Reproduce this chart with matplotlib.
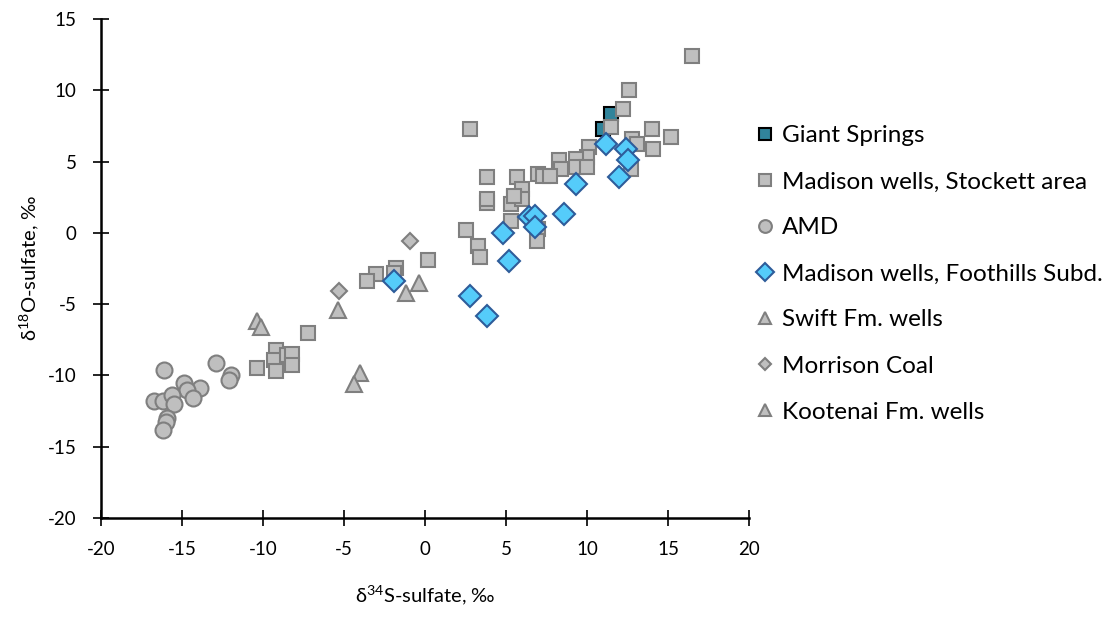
import matplotlib
matplotlib.use("Agg")
import matplotlib.pyplot as plt

plt.rcParams['font.family'] = ['Lato', 'DejaVu Sans']
plt.rcParams['axes.unicode_minus'] = False

# d34S (x) and d18O (y) of sulfate, permil
giant_x = [11.5, 11.0]
giant_y = [8.3, 7.3]

stockett_x = [16.5, 12.6, 12.2, 11.5, 2.8, 14.0, 15.2, 14.1, 12.8, 13.1, 10.1,
              10.0, 8.3, 9.3, 9.3, 10.0, 8.4, 7.0, 7.3, 7.7, 3.8, 5.7, 6.0,
              5.5, 3.8, 12.7, 3.8, 5.3, 6.0, 5.5, 5.3, 2.5, 3.3, 3.4, 7.0,
              6.9, 0.2, -1.8, -3.0, -3.6, -1.9, -7.2, -9.2, -9.3, -8.5, -8.2,
              -8.2, -9.2, -10.4]
stockett_y = [12.4, 10.0, 8.7, 7.4, 7.3, 7.3, 6.7, 5.9, 6.6, 6.2, 6.0,
              5.3, 5.1, 5.2, 4.6, 4.6, 4.5, 4.1, 4.0, 4.0, 3.9, 3.9, 3.1,
              2.5, 2.1, 4.5, 2.4, 2.0, 2.4, 2.6, 0.8, 0.2, -0.9, -1.7, 0.3,
              -0.6, -1.9, -2.5, -2.9, -3.4, -2.8, -7.0, -8.2, -8.9, -8.6, -8.5,
              -9.3, -9.7, -9.5]

amd_x = [-16.1, -12.9, -12.0, -12.1, -14.9, -13.9, -14.7, -14.3, -16.7,
         -16.2, -15.6, -15.5, -15.9, -16.0, -16.2]
amd_y = [-9.6, -9.1, -10.0, -10.3, -10.5, -10.9, -11.0, -11.6, -11.8,
         -11.8, -11.4, -12.0, -13.0, -13.3, -13.8]

foothills_x = [11.2, 12.4, 12.5, 12.0, 9.3, 6.4, 6.8, 6.8, 8.6, 4.8, 5.2,
               2.8, 3.8, -1.9]
foothills_y = [6.2, 5.9, 5.1, 3.9, 3.4, 1.1, 1.2, 0.4, 1.3, 0.0, -2.0,
               -4.4, -5.8, -3.4]

swift_x = [-10.4, -10.1, -5.4, -1.2, -0.4]
swift_y = [-6.2, -6.6, -5.4, -4.2, -3.5]

morrison_x = [-0.9, -5.3]
morrison_y = [-0.6, -4.1]

kootenai_x = [-4.0, -4.4]
kootenai_y = [-9.8, -10.6]

gray = '#BFBFBF'
gray_edge = '#7F7F7F'

fig = plt.figure(figsize=(11.12, 6.24), dpi=100)
ax = fig.add_axes([0.0908, 0.1699, 0.5828, 0.7997])

ax.plot(giant_x, giant_y, 's', ms=10, mfc='#31849B', mec='black', mew=1.5,
        label='Giant Springs')
ax.plot(stockett_x, stockett_y, 's', ms=10, mfc=gray, mec=gray_edge, mew=1.5,
        label='Madison wells, Stockett area')
ax.plot(amd_x, amd_y, 'o', ms=11.5, mfc=gray, mec=gray_edge, mew=1.5,
        label='AMD')
ax.plot(foothills_x, foothills_y, 'D', ms=11, mfc='#55CCFA', mec='#2E5C9A',
        mew=1.5, label='Madison wells, Foothills Subd.')
ax.plot(swift_x, swift_y, '^', ms=11, mfc=gray, mec=gray_edge, mew=1.5,
        label='Swift Fm. wells')
ax.plot(morrison_x, morrison_y, 'D', ms=8, mfc=gray, mec=gray_edge, mew=1.5,
        label='Morrison Coal')
ax.plot(kootenai_x, kootenai_y, '^', ms=11, mfc=gray, mec=gray_edge, mew=1.5,
        label='Kootenai Fm. wells')

ax.set_xlim(-20, 20)
ax.set_ylim(-20, 15)
ax.set_xticks(range(-20, 21, 5))
ax.set_yticks(range(-20, 16, 5))
for s in ['top', 'right']:
    ax.spines[s].set_visible(False)
for s in ['left', 'bottom']:
    ax.spines[s].set_linewidth(1.8)
ax.tick_params(direction='inout', length=11, width=1.2, labelsize=13.5)
ax.tick_params(axis='x', pad=11)
ax.tick_params(axis='y', pad=12)

ax.set_xlabel(r'δ$^{\mathregular{34}}$S-sulfate, ‰', fontsize=14.5,
              labelpad=19)
ax.set_ylabel(r'δ$^{\mathregular{18}}$O-sulfate, ‰', fontsize=14.5,
              labelpad=4)

fig.legend(loc='center left', bbox_to_anchor=(0.6814, 0.561), frameon=False,
           fontsize=17.5, markerscale=0.8, handlelength=0.6,
           handletextpad=0.4, labelspacing=1.03, borderpad=0,
           borderaxespad=0)

fig.savefig('out.png', dpi=100)
